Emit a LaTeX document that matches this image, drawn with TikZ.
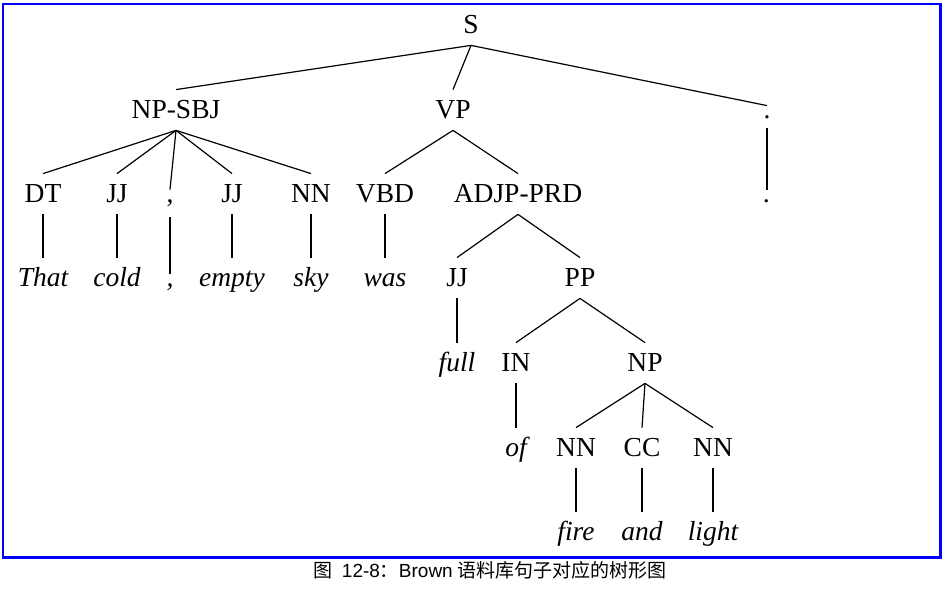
\documentclass[tikz,border=0pt]{standalone}
\usepackage{fontspec}
\setmainfont{Liberation Serif}
\newfontfamily\capsans{Liberation Sans}
\newfontfamily\cjk{Noto Sans CJK SC}
\tikzset{
  tagnode/.style={inner sep=0pt,anchor=base,font=\fontsize{13.75}{16}\selectfont,text height=14.5pt,text depth=5.5pt},
  wordnode/.style={tagnode,font=\fontsize{13.75}{16}\selectfont\itshape},
  punctnode/.style={text height=6.5pt,text depth=#1},
  punctnode/.default=7pt,
  branch/.style={line width=0.6pt}
}

\begin{document}
\begin{tikzpicture}[x=0.5pt,y=-0.5pt]
\useasboundingbox (0,0) rectangle (942,592);
\draw[blue,line width=1.25pt] (3,4) rectangle (940.5,557.5);
% tags
\node[tagnode] (s) at (471,34) {S};
\node[tagnode] (npsbj) at (176,119) {NP-SBJ};
\node[tagnode] (vp) at (453,119) {VP};
\node[tagnode,punctnode=4.5pt] (dota) at (767,119) {.};
\node[tagnode] (dt) at (43,203) {DT};
\node[tagnode] (jja) at (117,203) {JJ};
\node[tagnode,punctnode] (comma) at (170,203) {,};
\node[tagnode] (jjb) at (232,203) {JJ};
\node[tagnode] (nna) at (311,203) {NN};
\node[tagnode] (vbd) at (385,203) {VBD};
\node[tagnode] (adjp) at (518,203) {ADJP-PRD};
\node[tagnode] (jjc) at (457,287) {JJ};
\node[tagnode] (pp) at (580,287) {PP};
\node[tagnode] (in) at (516,372) {IN};
\node[tagnode] (np) at (645,372) {NP};
\node[tagnode] (nnb) at (576,457) {NN};
\node[tagnode] (cc) at (642,457) {CC};
\node[tagnode] (nnc) at (713,457) {NN};
% words
\node[wordnode,punctnode=4.5pt] (dotb) at (767,203) {.};
\node[wordnode] (that) at (43,287) {That};
\node[wordnode] (cold) at (117,287) {cold};
\node[wordnode,punctnode] (commaw) at (170,287) {,};
\node[wordnode] (empty) at (232,287) {empty};
\node[wordnode] (sky) at (311,287) {sky};
\node[wordnode] (was) at (385,287) {was};
\node[wordnode] (full) at (457,372) {full};
\node[wordnode] (of) at (516,457) {of};
\node[wordnode] (fire) at (576,541) {fire};
\node[wordnode] (and) at (642,541) {and};
\node[wordnode] (light) at (713,541) {light};
% branches
\foreach \c in {npsbj,vp,dota} \draw[branch] (s.south) -- (\c.north);
\foreach \c in {dt,jja,comma,jjb,nna} \draw[branch] (npsbj.south) -- (\c.north);
\foreach \c in {vbd,adjp} \draw[branch] (vp.south) -- (\c.north);
\foreach \c in {jjc,pp} \draw[branch] (adjp.south) -- (\c.north);
\foreach \c in {in,np} \draw[branch] (pp.south) -- (\c.north);
\foreach \c in {nnb,cc,nnc} \draw[branch] (np.south) -- (\c.north);
\foreach \a/\b in {dota/dotb,dt/that,jja/cold,comma/commaw,jjb/empty,nna/sky,vbd/was,jjc/full,in/of,nnb/fire,cc/and,nnc/light}
  \draw[branch] (\a.south) -- (\b.north);
\node[anchor=base,inner sep=0pt,font=\fontsize{9.5}{11}\selectfont] (caption) at (490,577)
  {{\cjk 图}\ \ {\capsans 12-8}{\cjk ：}{\capsans Brown} {\cjk 语料库句子对应的树形图}};
\end{tikzpicture}
\end{document}
